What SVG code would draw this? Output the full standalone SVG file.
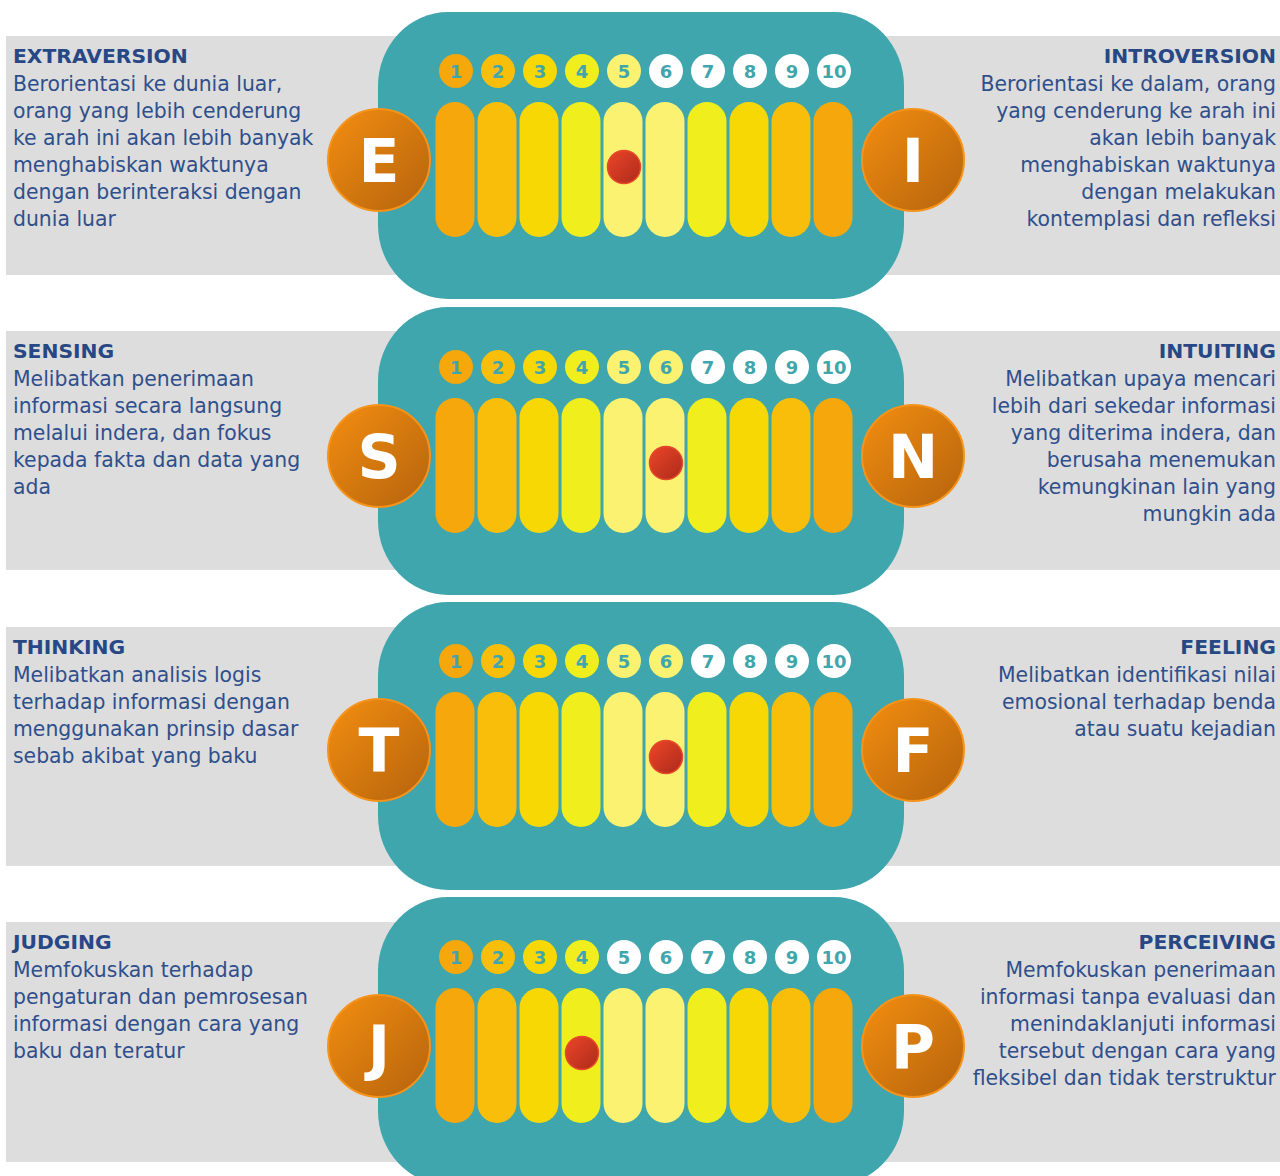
<svg xmlns="http://www.w3.org/2000/svg" width="1280" height="1176" viewBox="0 0 1280 1176">
<defs>
<linearGradient id="gOr" x1="0" y1="0" x2="1" y2="1">
<stop offset="0" stop-color="#f38e10"/>
<stop offset="1" stop-color="#b5630d"/>
</linearGradient>
<linearGradient id="gRed" x1="0" y1="0" x2="1" y2="1">
<stop offset="0" stop-color="#ec4628"/>
<stop offset="1" stop-color="#ac2a1a"/>
</linearGradient>
<style>
.band{fill:#dddddd}
.teal{fill:#3fa6ad}
.lc{fill:url(#gOr);stroke:#f5931b;stroke-width:2}
.lt{font-family:"DejaVu Sans",sans-serif;font-weight:bold;font-size:60px;fill:#ffffff;text-anchor:middle}
.nt{font-family:"DejaVu Sans",sans-serif;font-weight:bold;font-size:18px;fill:#3fa6ad;text-anchor:middle}
.ttl{font-family:"DejaVu Sans",sans-serif;font-weight:bold;font-size:20.3px;fill:#274785}
.bd{font-family:"DejaVu Sans",sans-serif;font-size:20.4px;fill:#2f4f8c}
.r{text-anchor:end}
.mk{fill:url(#gRed);stroke:#e9472a;stroke-width:1.5}
.c1{fill:#f6a70c}.c2{fill:#f8be0a}.c3{fill:#f7d805}.c4{fill:#f0ee1c}.c5{fill:#fbf271}.cw{fill:#ffffff}
</style>
<g id="bars">
<rect class="c1" x="435.5" y="102" width="39" height="135" rx="19.5"/>
<rect class="c2" x="477.5" y="102" width="39" height="135" rx="19.5"/>
<rect class="c3" x="519.5" y="102" width="39" height="135" rx="19.5"/>
<rect class="c4" x="561.5" y="102" width="39" height="135" rx="19.5"/>
<rect class="c5" x="603.5" y="102" width="39" height="135" rx="19.5"/>
<rect class="c5" x="645.5" y="102" width="39" height="135" rx="19.5"/>
<rect class="c4" x="687.5" y="102" width="39" height="135" rx="19.5"/>
<rect class="c3" x="729.5" y="102" width="39" height="135" rx="19.5"/>
<rect class="c2" x="771.5" y="102" width="39" height="135" rx="19.5"/>
<rect class="c1" x="813.5" y="102" width="39" height="135" rx="19.5"/>
</g>
<g id="nums">
<text class="nt" x="456" y="77.5">1</text>
<text class="nt" x="498" y="77.5">2</text>
<text class="nt" x="540" y="77.5">3</text>
<text class="nt" x="582" y="77.5">4</text>
<text class="nt" x="624" y="77.5">5</text>
<text class="nt" x="666" y="77.5">6</text>
<text class="nt" x="708" y="77.5">7</text>
<text class="nt" x="750" y="77.5">8</text>
<text class="nt" x="792" y="77.5">9</text>
<text class="nt" x="834" y="77.5">10</text>
</g>
</defs>

<g id="panel-EI">
<rect class="band" x="6" y="36" width="1274" height="239"/>
<rect class="teal" x="378" y="12" width="526" height="287" rx="70" ry="74"/>
<g id="scale-EI">
<circle class="c1" cx="456" cy="71" r="17"/><circle class="c2" cx="498" cy="71" r="17"/><circle class="c3" cx="540" cy="71" r="17"/><circle class="c4" cx="582" cy="71" r="17"/><circle class="c5" cx="624" cy="71" r="17"/>
<circle class="cw" cx="666" cy="71" r="17"/><circle class="cw" cx="708" cy="71" r="17"/><circle class="cw" cx="750" cy="71" r="17"/><circle class="cw" cx="792" cy="71" r="17"/><circle class="cw" cx="834" cy="71" r="17"/>
<use href="#nums"/>
<use href="#bars"/>
<circle class="mk" cx="624" cy="167" r="16.5"/>
</g>
<g id="node-E"><circle class="lc" cx="379" cy="160" r="51"/><text class="lt" x="379" y="181.5">E</text></g>
<g id="node-I"><circle class="lc" cx="913" cy="160" r="51"/><text class="lt" x="913" y="181.5">I</text></g>
<g id="text-E">
<text class="ttl" x="13" y="63">EXTRAVERSION</text>
<text class="bd" x="13" y="91">Berorientasi ke dunia luar,</text>
<text class="bd" x="13" y="118">orang yang lebih cenderung</text>
<text class="bd" x="13" y="145">ke arah ini akan lebih banyak</text>
<text class="bd" x="13" y="172">menghabiskan waktunya</text>
<text class="bd" x="13" y="199">dengan berinteraksi dengan</text>
<text class="bd" x="13" y="226">dunia luar</text>
</g>
<g id="text-I">
<text class="ttl r" x="1276" y="63">INTROVERSION</text>
<text class="bd r" x="1276" y="91">Berorientasi ke dalam, orang</text>
<text class="bd r" x="1276" y="118">yang cenderung ke arah ini</text>
<text class="bd r" x="1276" y="145">akan lebih banyak</text>
<text class="bd r" x="1276" y="172">menghabiskan waktunya</text>
<text class="bd r" x="1276" y="199">dengan melakukan</text>
<text class="bd r" x="1276" y="226">kontemplasi dan refleksi</text>
</g>
</g>

<g id="panel-SN" transform="translate(0,296)">
<rect class="band" x="6" y="35" width="1274" height="239"/>
<rect class="teal" x="378" y="11" width="526" height="288" rx="70" ry="74"/>
<g id="scale-SN">
<circle class="c1" cx="456" cy="71" r="17"/><circle class="c2" cx="498" cy="71" r="17"/><circle class="c3" cx="540" cy="71" r="17"/><circle class="c4" cx="582" cy="71" r="17"/><circle class="c5" cx="624" cy="71" r="17"/>
<circle class="c5" cx="666" cy="71" r="17"/><circle class="cw" cx="708" cy="71" r="17"/><circle class="cw" cx="750" cy="71" r="17"/><circle class="cw" cx="792" cy="71" r="17"/><circle class="cw" cx="834" cy="71" r="17"/>
<use href="#nums"/>
<use href="#bars"/>
<circle class="mk" cx="666" cy="167" r="16.5"/>
</g>
<g id="node-S"><circle class="lc" cx="379" cy="160" r="51"/><text class="lt" x="379" y="181.5">S</text></g>
<g id="node-N"><circle class="lc" cx="913" cy="160" r="51"/><text class="lt" x="913" y="181.5">N</text></g>
<g id="text-S">
<text class="ttl" x="13" y="62">SENSING</text>
<text class="bd" x="13" y="90">Melibatkan penerimaan</text>
<text class="bd" x="13" y="117">informasi secara langsung</text>
<text class="bd" x="13" y="144">melalui indera, dan fokus</text>
<text class="bd" x="13" y="171">kepada fakta dan data yang</text>
<text class="bd" x="13" y="198">ada</text>
</g>
<g id="text-N">
<text class="ttl r" x="1276" y="62">INTUITING</text>
<text class="bd r" x="1276" y="90">Melibatkan upaya mencari</text>
<text class="bd r" x="1276" y="117">lebih dari sekedar informasi</text>
<text class="bd r" x="1276" y="144">yang diterima indera, dan</text>
<text class="bd r" x="1276" y="171">berusaha menemukan</text>
<text class="bd r" x="1276" y="198">kemungkinan lain yang</text>
<text class="bd r" x="1276" y="225">mungkin ada</text>
</g>
</g>

<g id="panel-TF" transform="translate(0,590)">
<rect class="band" x="6" y="37" width="1274" height="239"/>
<rect class="teal" x="378" y="12" width="526" height="288" rx="70" ry="74"/>
<g id="scale-TF">
<circle class="c1" cx="456" cy="71" r="17"/><circle class="c2" cx="498" cy="71" r="17"/><circle class="c3" cx="540" cy="71" r="17"/><circle class="c4" cx="582" cy="71" r="17"/><circle class="c5" cx="624" cy="71" r="17"/>
<circle class="c5" cx="666" cy="71" r="17"/><circle class="cw" cx="708" cy="71" r="17"/><circle class="cw" cx="750" cy="71" r="17"/><circle class="cw" cx="792" cy="71" r="17"/><circle class="cw" cx="834" cy="71" r="17"/>
<use href="#nums"/>
<use href="#bars"/>
<circle class="mk" cx="666" cy="167" r="16.5"/>
</g>
<g id="node-T"><circle class="lc" cx="379" cy="160" r="51"/><text class="lt" x="379" y="181.5">T</text></g>
<g id="node-F"><circle class="lc" cx="913" cy="160" r="51"/><text class="lt" x="913" y="181.5">F</text></g>
<g id="text-T">
<text class="ttl" x="13" y="64">THINKING</text>
<text class="bd" x="13" y="92">Melibatkan analisis logis</text>
<text class="bd" x="13" y="119">terhadap informasi dengan</text>
<text class="bd" x="13" y="146">menggunakan prinsip dasar</text>
<text class="bd" x="13" y="173">sebab akibat yang baku</text>
</g>
<g id="text-F">
<text class="ttl r" x="1276" y="64">FEELING</text>
<text class="bd r" x="1276" y="92">Melibatkan identifikasi nilai</text>
<text class="bd r" x="1276" y="119">emosional terhadap benda</text>
<text class="bd r" x="1276" y="146">atau suatu kejadian</text>
</g>
</g>

<g id="panel-JP" transform="translate(0,886)">
<rect class="band" x="6" y="36" width="1274" height="240"/>
<rect class="teal" x="378" y="11" width="526" height="288" rx="70" ry="74"/>
<g id="scale-JP">
<circle class="c1" cx="456" cy="71" r="17"/><circle class="c2" cx="498" cy="71" r="17"/><circle class="c3" cx="540" cy="71" r="17"/><circle class="c4" cx="582" cy="71" r="17"/><circle class="cw" cx="624" cy="71" r="17"/>
<circle class="cw" cx="666" cy="71" r="17"/><circle class="cw" cx="708" cy="71" r="17"/><circle class="cw" cx="750" cy="71" r="17"/><circle class="cw" cx="792" cy="71" r="17"/><circle class="cw" cx="834" cy="71" r="17"/>
<use href="#nums"/>
<use href="#bars"/>
<circle class="mk" cx="582" cy="167" r="16.5"/>
</g>
<g id="node-J"><circle class="lc" cx="379" cy="160" r="51"/><text class="lt" x="379" y="181.5">J</text></g>
<g id="node-P"><circle class="lc" cx="913" cy="160" r="51"/><text class="lt" x="913" y="181.5">P</text></g>
<g id="text-J">
<text class="ttl" x="13" y="63">JUDGING</text>
<text class="bd" x="13" y="91">Memfokuskan terhadap</text>
<text class="bd" x="13" y="118">pengaturan dan pemrosesan</text>
<text class="bd" x="13" y="145">informasi dengan cara yang</text>
<text class="bd" x="13" y="172">baku dan teratur</text>
</g>
<g id="text-P">
<text class="ttl r" x="1276" y="63">PERCEIVING</text>
<text class="bd r" x="1276" y="91">Memfokuskan penerimaan</text>
<text class="bd r" x="1276" y="118">informasi tanpa evaluasi dan</text>
<text class="bd r" x="1276" y="145">menindaklanjuti informasi</text>
<text class="bd r" x="1276" y="172">tersebut dengan cara yang</text>
<text class="bd r" x="1276" y="199">fleksibel dan tidak terstruktur</text>
</g>
</g>
<g id="connectors"/>
</svg>
